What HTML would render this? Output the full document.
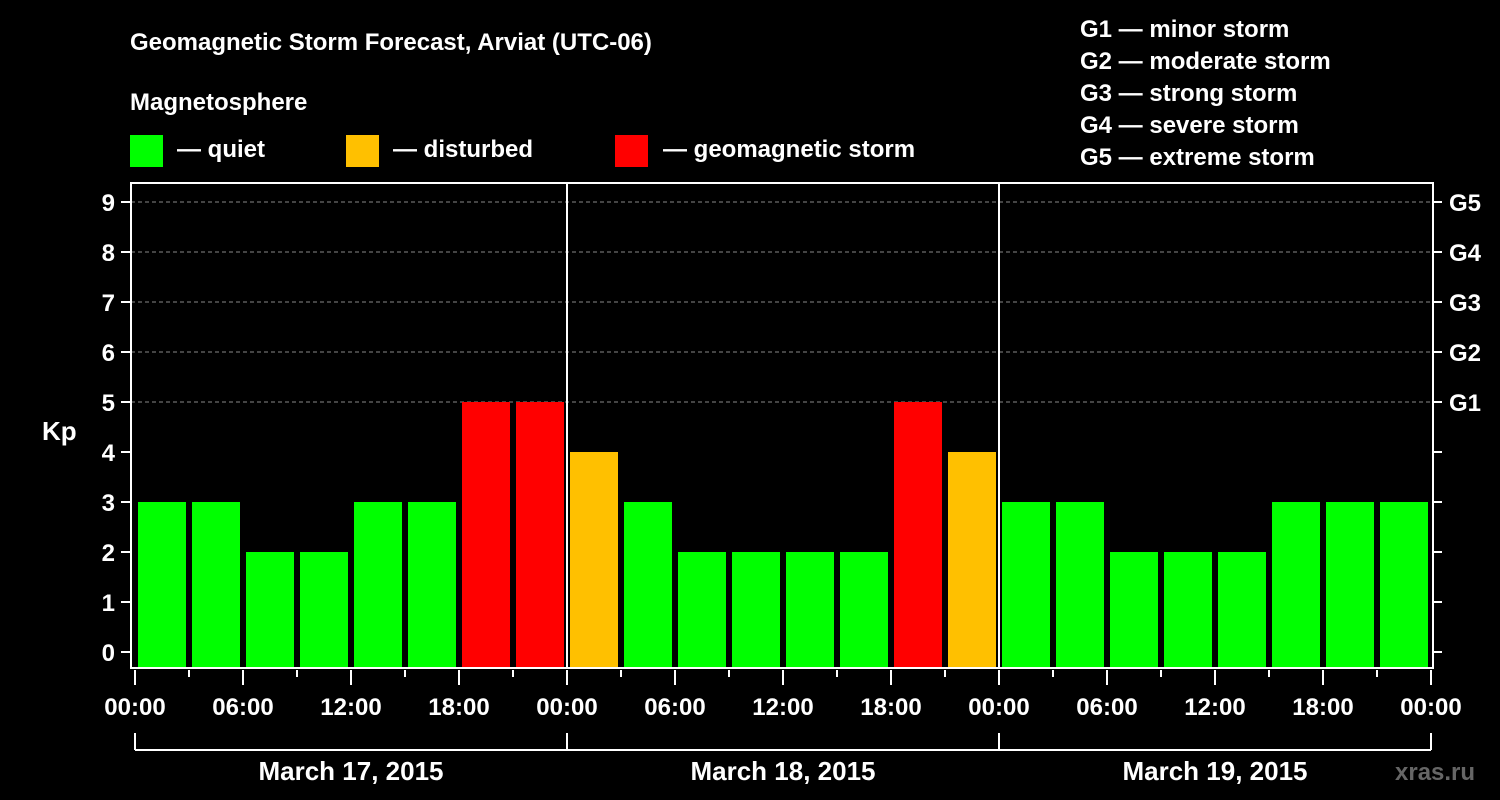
<!DOCTYPE html>
<html><head><meta charset="utf-8"><style>
html,body{margin:0;padding:0;background:#000;}
svg{display:block;font-family:"Liberation Sans",Arial,sans-serif;font-weight:bold;}
</style></head><body>
<svg id="chart" width="1500" height="800" viewBox="0 0 1500 800">
<rect width="1500" height="800" fill="#000"/>
<text x="130" y="50" fill="#fff" font-size="24">Geomagnetic Storm Forecast, Arviat (UTC-06)</text>
<text x="130" y="110" fill="#fff" font-size="24">Magnetosphere</text>
<g><rect x="130" y="135" width="33" height="32" fill="#00ff00"/><text x="177" y="157" fill="#fff" font-size="24">— quiet</text></g>
<g><rect x="346" y="135" width="33" height="32" fill="#ffc000"/><text x="393" y="157" fill="#fff" font-size="24">— disturbed</text></g>
<g><rect x="615" y="135" width="33" height="32" fill="#ff0000"/><text x="663" y="157" fill="#fff" font-size="24">— geomagnetic storm</text></g>
<g fill="#fff" font-size="24">
<text x="1080" y="37">G1 — minor storm</text>
<text x="1080" y="69">G2 — moderate storm</text>
<text x="1080" y="101">G3 — strong storm</text>
<text x="1080" y="133">G4 — severe storm</text>
<text x="1080" y="165">G5 — extreme storm</text>
</g>
<text x="42" y="440" fill="#fff" font-size="26">Kp</text>
<text x="1395" y="780" fill="#666" font-size="24">xras.ru</text>
<g id="plot"></g>
</svg>
<script>
const kpValues=[3,3,2,2,3,3,5,5,4,3,2,2,2,2,5,4,3,3,2,2,2,3,3,3];
const yTicks=[0,1,2,3,4,5,6,7,8,9];
const gLabels=["G1","G2","G3","G4","G5"];
const gLevels=[5,6,7,8,9];
const xTickLabels=["00:00","06:00","12:00","18:00","00:00","06:00","12:00","18:00","00:00","06:00","12:00","18:00","00:00"];
const dayLabels=["March 17, 2015","March 18, 2015","March 19, 2015"];
const L=131,R=1433,T=183,B=668,X0=135,SLOT=54;
const yS=v=>652-v*50;
const xS=i=>X0+i*SLOT; // i in 3-hour slots
const ns="http://www.w3.org/2000/svg";
const plot=document.getElementById('plot');
function mk(tag,attrs,text){const e=document.createElementNS(ns,tag);for(const k in attrs)e.setAttribute(k,attrs[k]);if(text!==undefined)e.textContent=text;plot.appendChild(e);return e;}
const color=v=>v>=5?"#ff0000":(v>=4?"#ffc000":"#00ff00");
// gridlines
yTicks.forEach(v=>{if(v>=5){const g=mk('line',{x1:L,x2:R,y1:yS(v),y2:yS(v),stroke:"#888","stroke-dasharray":"4,3","stroke-width":1});

}});
// bars
kpValues.forEach((v,i)=>{const b=mk('rect',{x:xS(i)+3,y:yS(v),width:48,height:B-yS(v),fill:color(v)});

});
// frame
const fr=mk('rect',{x:L,y:T,width:R-L,height:B-T,fill:"none",stroke:"#fff","stroke-width":2});


[8,16].forEach(i=>{const d=mk('line',{x1:xS(i),x2:xS(i),y1:T,y2:B,stroke:"#fff","stroke-width":2});

});
// y ticks
yTicks.forEach(v=>{
mk('line',{x1:L-10,x2:L,y1:yS(v),y2:yS(v),stroke:"#fff","stroke-width":2});
mk('line',{x1:R,x2:R+9,y1:yS(v),y2:yS(v),stroke:"#fff","stroke-width":2});
const t=mk('text',{x:115,y:yS(v)+9,fill:"#fff","font-size":24,"text-anchor":"end"},String(v));

});
gLabels.forEach((g,i)=>{const t=mk('text',{x:1449,y:yS(gLevels[i])+9,fill:"#fff","font-size":24},g);

});
// x ticks
for(let i=0;i<=24;i++){const major=i%2===0;
mk('line',{x1:xS(i),x2:xS(i),y1:B+2,y2:B+(major?17:9),stroke:"#fff","stroke-width":2});}
xTickLabels.forEach((s,j)=>{const t=mk('text',{x:xS(j*2),y:715,fill:"#fff","font-size":24,"text-anchor":"middle"},s);

});
// day bracket
mk('line',{x1:xS(0),x2:xS(24),y1:750,y2:750,stroke:"#fff","stroke-width":2});
[0,8,16,24].forEach(i=>mk('line',{x1:xS(i),x2:xS(i),y1:733,y2:750,stroke:"#fff","stroke-width":2}));
dayLabels.forEach((d,k)=>{const t=mk('text',{x:xS(k*8+4),y:780,fill:"#fff","font-size":26,"text-anchor":"middle"},d);

});
</script>
</body></html>
